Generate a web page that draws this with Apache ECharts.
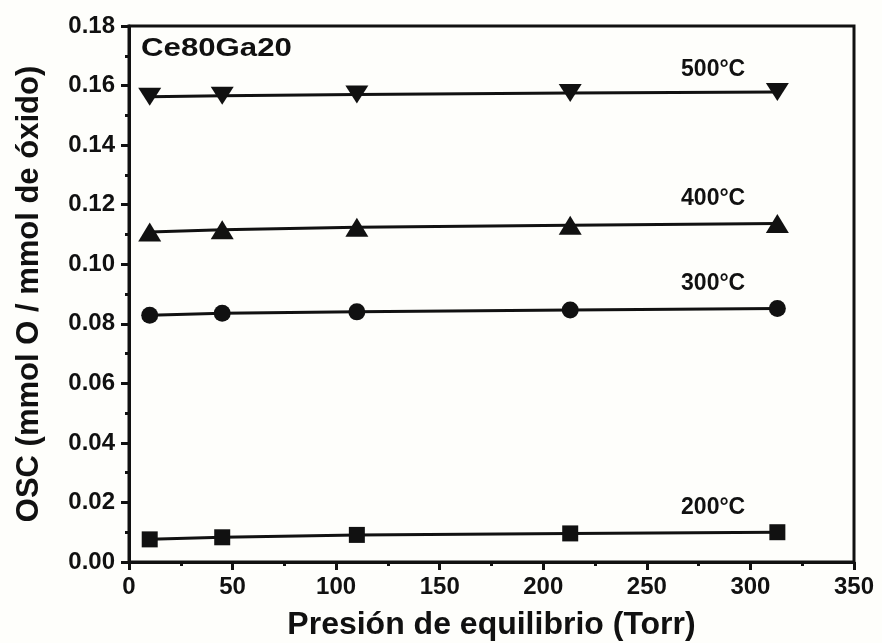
<!DOCTYPE html>
<html>
<head>
<meta charset="utf-8">
<script src="https://cdn.jsdelivr.net/npm/echarts@6/dist/echarts.min.js"></script>
<style>html,body{margin:0;padding:0;background:#fefefb;}#c{width:882px;height:643px;}</style>
</head>
<body>
<div id="c"></div>
<script>
const pressure = [10, 45, 110, 213, 313];
const osc200 = [0.0076, 0.0083, 0.0091, 0.0096, 0.0100];
const osc300 = [0.0829, 0.0835, 0.0840, 0.0846, 0.0851];
const osc400 = [0.1108, 0.1116, 0.1124, 0.1131, 0.1137];
const osc500 = [0.1562, 0.1566, 0.1570, 0.1575, 0.1578];
const seriesNames = ['200°C', '300°C', '400°C', '500°C'];
const seriesSymbols = ['rect', 'circle', 'triangle', 'path://M0,0 L10,0 L5,8 Z'];
const labelPos = [[282, 0.0181], [282, 0.0936], [282, 0.1221], [282, 0.1654]];
const sampleName = 'Ce80Ga20';

const font = 'Liberation Sans, Arial, sans-serif';
const allData = [osc200, osc300, osc400, osc500];
const sizes = [16, 17, [23, 19], [23, 18]];

const chart = echarts.init(document.getElementById('c'));
chart.setOption({
  backgroundColor: '#fefefb',
  animation: false,
  grid: {left: 129, right: 28, top: 26, bottom: 81, outerBoundsMode: 'none', containLabel: false,
    show: true, borderColor: '#111', borderWidth: 3, backgroundColor: 'transparent'},
  xAxis: {
    type: 'value', min: 0, max: 350, interval: 50,
    name: 'Presión de equilibrio (Torr)', nameLocation: 'middle', nameGap: 47,
    nameTextStyle: {fontFamily: font, fontWeight: 'bold', fontSize: 32, color: '#111'},
    axisLine: {show: true, lineStyle: {color: '#111', width: 3}},
    axisTick: {show: true, inside: false, length: 8, lineStyle: {width: 3, color: '#111'}},
    minorTick: {show: true, splitNumber: 2, length: 4, lineStyle: {width: 3, color: '#111'}},
    axisLabel: {fontFamily: font, fontWeight: 'bold', fontSize: 24, color: '#111', margin: 13},
    splitLine: {show: false}
  },
  yAxis: {
    type: 'value', min: 0, max: 0.18, interval: 0.02,
    name: 'OSC (mmol O / mmol de óxido)', nameLocation: 'middle', nameGap: 84,
    nameTextStyle: {fontFamily: font, fontWeight: 'bold', fontSize: 31, color: '#111'},
    axisLine: {show: true, lineStyle: {color: '#111', width: 3}},
    axisTick: {show: true, inside: false, length: 8, lineStyle: {width: 3, color: '#111'}},
    minorTick: {show: true, splitNumber: 2, length: 4, lineStyle: {width: 3, color: '#111'}},
    axisLabel: {fontFamily: font, fontWeight: 'bold', fontSize: 24, color: '#111', margin: 14,
      formatter: v => v.toFixed(2)},
    splitLine: {show: false}
  },
  graphic: [{type: 'text', x: 141, y: 36, scaleX: 1.2, style: {text: sampleName, fontFamily: font, fontWeight: 'bold', fontSize: 26, fill: '#111'}}],
  series: allData.map((d, i) => ({
    name: seriesNames[i], type: 'line',
    data: d.map((v, j) => [pressure[j], v]),
    symbol: seriesSymbols[i], symbolSize: sizes[i],
    itemStyle: {color: '#111'},
    lineStyle: {color: '#111', width: 3},
    markPoint: {
      symbol: 'circle', symbolSize: 1, itemStyle: {color: 'rgba(0,0,0,0)'},
      label: {show: true, position: 'inside', formatter: seriesNames[i], fontFamily: font, fontWeight: 'bold', fontSize: 23, color: '#111'},
      data: [{coord: labelPos[i]}]
    }
  }))
});
</script>
</body>
</html>
